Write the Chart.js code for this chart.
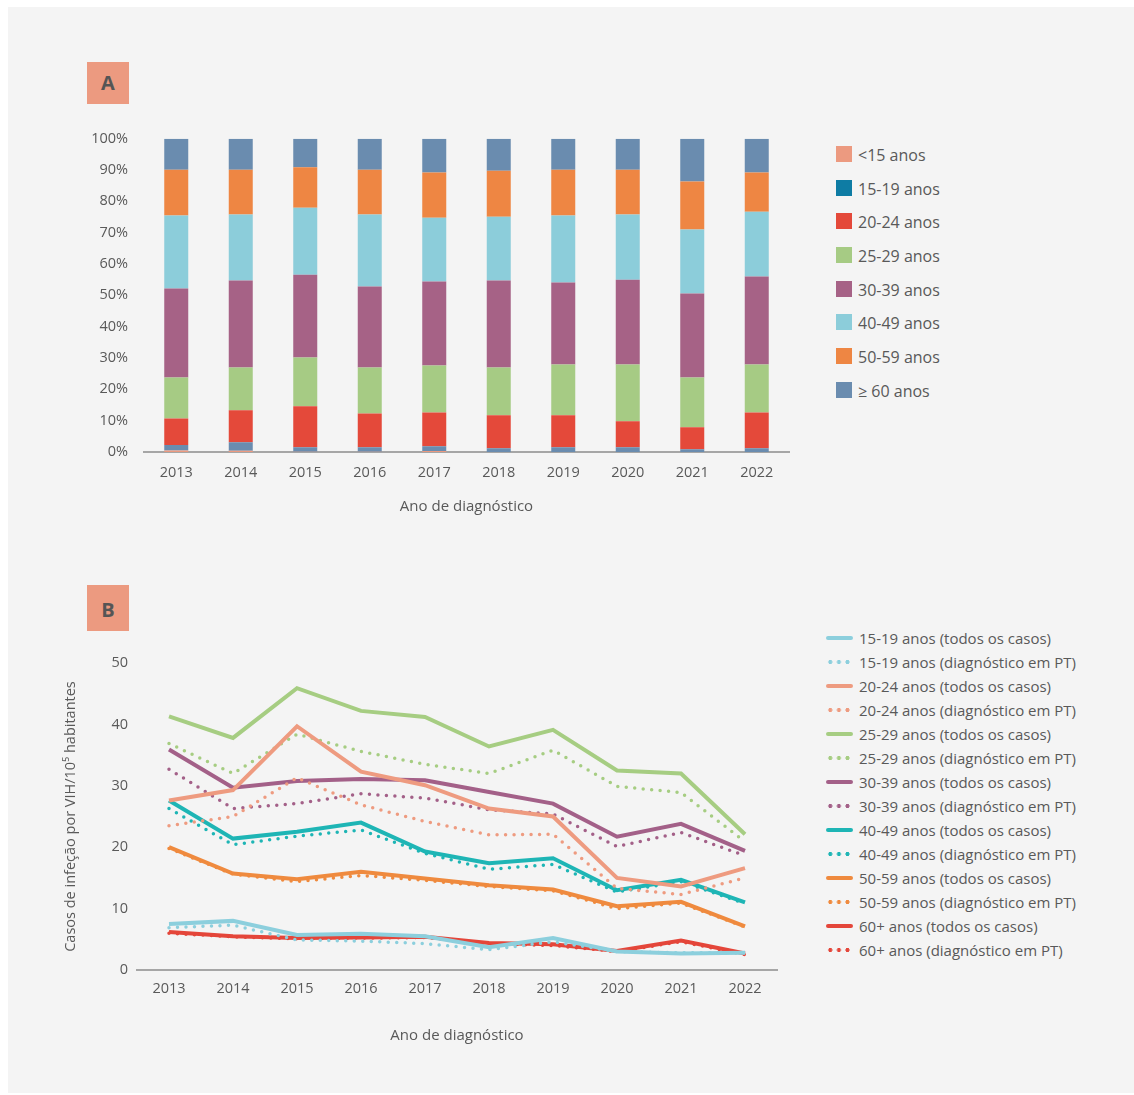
<!DOCTYPE html>
<html>
<head>
<meta charset="utf-8">
<script src="https://cdn.jsdelivr.net/npm/chart.js@4.4.1/dist/chart.umd.min.js"></script>
<style>
  body { margin:0; background:#fff; font-family:'Open Sans', sans-serif; }
  #panel { position:absolute; left:8px; top:7px; width:1126px; height:1086px; background:#f4f4f4; }
  .tag { position:absolute; left:87px; width:42px; height:42px; background:#ec9a80; color:#555;
         font:bold 20px 'Open Sans'; line-height:42px; text-align:center; }
  canvas { position:absolute; }
  .leg { position:absolute; color:#595959; }
  .leg div { position:relative; white-space:nowrap; }
  .sq { position:absolute; left:0; width:16px; height:16px; }
  .ln { position:absolute; left:0; width:27px; height:4px; border-radius:2px; }
  .dt { position:absolute; left:0; width:27px; height:4px; }
</style>
</head>
<body>
<div id="panel"></div>
<div class="tag" style="top:62px">A</div>
<div class="tag" style="top:585px;height:46px;line-height:49px">B</div>
<canvas id="chartA" style="left:60px;top:114px;width:740px;height:405px" width="740" height="405"></canvas>
<canvas id="chartB" style="left:60px;top:640px;width:740px;height:420px" width="740" height="420"></canvas>
<div id="legA" class="leg" style="left:836px;top:143px;font-size:16px"></div>
<div id="legB" class="leg" style="left:826px;top:626px;font-size:15px"></div>
<script>
// ====== dados ======
const years = ["2013","2014","2015","2016","2017","2018","2019","2020","2021","2022"];

// A: distribuição (%) por grupo etário
const groupsA = ["<15 anos","15-19 anos","20-24 anos","25-29 anos","30-39 anos","40-49 anos","50-59 anos","≥ 60 anos"];
const pctLt15  = [0.5, 0.4, 0.1, 0.1, 0.3, 0,   0,   0,   0,   0];
const pct15_19 = [1.7, 2.7, 1.4, 1.4, 1.5, 1.2, 1.5, 1.5, 0.9, 1.2];
const pct20_24 = [8.5,10.2,13.1,10.8,10.8,10.5,10.2, 8.3, 7.0,11.4];
const pct25_29 = [13.1,13.7,15.6,14.7,15.0,15.3,16.2,18.1,15.9,15.3];
const pct30_39 = [28.4,27.7,26.4,25.8,26.8,27.7,26.2,27.1,26.8,28.1];
const pct40_49 = [23.3,21.1,21.4,23.0,20.4,20.4,21.4,20.8,20.4,20.7];
const pct50_59 = [14.6,14.3,12.9,14.3,14.4,14.7,14.6,14.3,15.3,12.5];
const pct60    = [9.9, 9.9, 9.1, 9.9,10.8,10.2, 9.9, 9.9,13.7,10.8];
const pctTicks = [0,10,20,30,40,50,60,70,80,90,100];

// B: taxas por 10^5 habitantes (todos os casos / diagnóstico em PT)
const r15_19_all = [7.5, 8.0, 5.7, 5.9, 5.5, 3.7, 5.2, 3.0, 2.7, 2.8];
const r15_19_pt  = [6.9, 7.3, 4.9, 4.7, 4.3, 3.3, 4.6, 3.0, 2.8, 2.8];
const r20_24_all = [27.6,29.3,39.7,32.3,30.1,26.3,25.0,15.0,13.6,16.6];
const r20_24_pt  = [23.5,25.0,31.3,26.9,24.2,22.0,22.1,13.3,12.3,15.0];
const r25_29_all = [41.3,37.8,45.9,42.2,41.2,36.4,39.1,32.5,32.0,22.1];
const r25_29_pt  = [36.9,32.0,38.4,35.6,33.5,32.0,35.8,29.9,28.9,20.9];
const r30_39_all = [35.9,29.7,30.8,31.1,30.9,29.0,27.1,21.7,23.8,19.4];
const r30_39_pt  = [32.7,26.3,27.1,28.7,28.0,26.1,25.4,20.1,22.4,18.6];
const r40_49_all = [27.6,21.4,22.5,24.0,19.3,17.4,18.2,13.0,14.7,11.0];
const r40_49_pt  = [26.3,20.4,21.8,22.8,19.0,16.4,17.2,12.7,14.4,10.8];
const r50_59_all = [20.0,15.7,14.8,16.0,14.9,13.8,13.1,10.4,11.1, 7.1];
const r50_59_pt  = [19.8,15.6,14.4,15.4,14.6,13.6,12.9,10.0,10.9, 7.0];
const r60_all    = [6.2, 5.5, 5.2, 5.3, 5.4, 4.4, 4.2, 3.1, 4.8, 2.7];
const r60_pt     = [6.0, 5.4, 5.1, 5.2, 5.3, 4.3, 4.0, 3.0, 4.6, 2.5];
const rateTicks = [0,10,20,30,40,50];

// ====== cores ======
const txt = '#595959';
const colA = ['#ec9a80','#6a8caf','#e4493a','#a6cb84','#a66286','#8ccdda','#ee8643','#6a8caf'];
const legColA = ['#ec9a80','#0e7ca4','#e4493a','#a6cb84','#a66286','#8ccdda','#ee8643','#6a8caf'];
const groupsB = ["15-19 anos","20-24 anos","25-29 anos","30-39 anos","40-49 anos","50-59 anos","60+ anos"];
const colB = ['#8ccfdd','#ee9b80','#a6cd82','#a36088','#1eb5b5','#ef8a3e','#e4463a'];
const seriesB = [[r15_19_all,r15_19_pt],[r20_24_all,r20_24_pt],[r25_29_all,r25_29_pt],[r30_39_all,r30_39_pt],
                 [r40_49_all,r40_49_pt],[r50_59_all,r50_59_pt],[r60_all,r60_pt]];

Chart.defaults.font.family = "'Open Sans', sans-serif";
Chart.defaults.color = txt;
Chart.defaults.animation = false;

// ====== Gráfico A ======
const pctA = [pctLt15,pct15_19,pct20_24,pct25_29,pct30_39,pct40_49,pct50_59,pct60];
new Chart(document.getElementById('chartA'), {
  type: 'bar',
  data: {
    labels: years,
    datasets: groupsA.map((g,i)=>({ label:g, data:pctA[i], backgroundColor:colA[i], borderWidth:0,
      barPercentage:0.372, categoryPercentage:1 }))
  },
  options: {
    responsive:false,
    layout:{ padding:{ top:20, right:11, left:0, bottom:0 } },
    plugins:{ legend:{display:false}, tooltip:{enabled:false} },
    scales:{
      x:{ stacked:true, grid:{display:false, drawTicks:false},
          border:{display:true, color:'#a6a6a6', width:2},
          ticks:{ padding:12, font:{size:14.5}, color:txt },
          title:{ display:true, text:'Ano de diagnóstico', font:{size:15}, color:txt, padding:{top:0,bottom:3} },
          afterFit: s => { s.height = 67; } },
      y:{ stacked:true, min:0, max:100, grid:{display:false, drawTicks:false}, border:{display:false},
          afterBuildTicks: s => { s.ticks = pctTicks.map(v=>({value:v})); },
          ticks:{ padding:16, font:{size:14.5}, color:txt, callback: v => v + '%' },
          afterFit: s => { s.width = 84; } }
    }
  }
});

// ====== Gráfico B ======
const dsB = [];
groupsB.forEach((g,i)=>{
  dsB.push({ label:g+' (todos os casos)', data:seriesB[i][0], borderColor:colB[i], borderWidth:4,
             pointRadius:0, tension:0, fill:false });
  dsB.push({ label:g+' (diagnóstico em PT)', data:seriesB[i][1], borderColor:colB[i], borderWidth:3.5,
             borderDash:[0,8.5], borderCapStyle:'round', pointRadius:0, tension:0, fill:false });
});
new Chart(document.getElementById('chartB'), {
  type: 'line',
  data: { labels: years, datasets: dsB },
  options: {
    responsive:false,
    layout:{ padding:{ top:23, right:23, left:0, bottom:0 } },
    plugins:{ legend:{display:false}, tooltip:{enabled:false} },
    scales:{
      x:{ offset:true, grid:{display:false, drawTicks:false},
          border:{display:true, color:'#a6a6a6', width:2},
          ticks:{ padding:10, font:{size:14.5}, color:txt },
          title:{ display:true, text:'Ano de diagnóstico', font:{size:15}, color:txt, padding:{top:0,bottom:15} },
          afterFit: s => { s.height = 90; } },
      y:{ min:0, max:50, grid:{display:false, drawTicks:false}, border:{display:false},
          afterBuildTicks: s => { s.ticks = rateTicks.map(v=>({value:v})); },
          ticks:{ padding:9, font:{size:14.5}, color:txt },
          title:{ display:true, text:'Casos de infeção por VIH/10⁵ habitantes', font:{size:14.5}, color:txt, padding:{top:2,bottom:0} },
          afterFit: s => { s.width = 77; } }
    }
  }
});

// ====== legendas ======
const legA = document.getElementById('legA');
groupsA.forEach((g,i)=>{
  const d = document.createElement('div');
  d.style.cssText = 'height:33.7px;padding-left:22px;line-height:24px';
  d.innerHTML = `<span class="sq" style="top:3px;background:${legColA[i]}"></span>${g}`;
  legA.appendChild(d);
});
const legB = document.getElementById('legB');
dsB.forEach((ds,i)=>{
  const d = document.createElement('div');
  d.style.cssText = 'height:24px;padding-left:33px;line-height:24px';
  const dotted = i % 2 === 1;
  const mark = dotted
    ? `<span class="dt" style="top:10px;background:radial-gradient(circle, ${ds.borderColor} 1.8px, transparent 2.2px) 0 0/8.6px 4px repeat-x"></span>`
    : `<span class="ln" style="top:10px;background:${ds.borderColor}"></span>`;
  d.innerHTML = mark + ds.label;
  legB.appendChild(d);
});
</script>
</body>
</html>
